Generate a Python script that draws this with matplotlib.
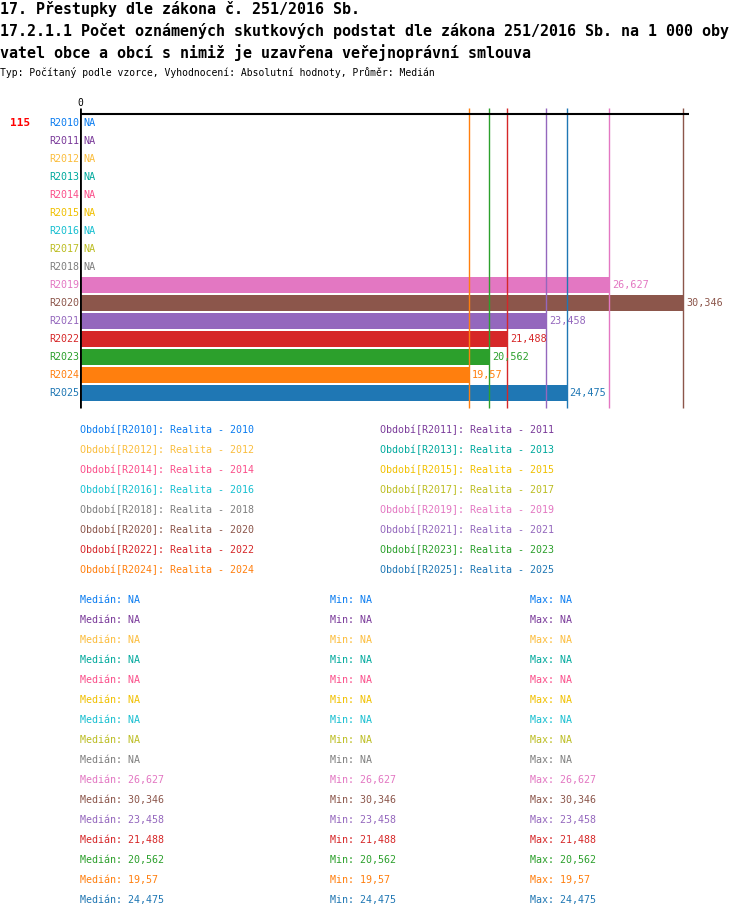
import numpy as np
import matplotlib
matplotlib.use("Agg")
import matplotlib.pyplot as plt

plt.rcParams['font.family'] = ['DejaVu Sans Mono']

W, H = 750, 918

title1 = "17. Přestupky dle zákona č. 251/2016 Sb."
title2 = "17.2.1.1 Počet oznámených skutkových podstat dle zákona 251/2016 Sb. na 1 000 oby"
title3 = "vatel obce a obcí s nimiž je uzavřena veřejnoprávní smlouva"
subtitle = "Typ: Počítaný podle vzorce, Vyhodnocení: Absolutní hodnoty, Průměr: Medián"
row_count_label = "115"

periods = ['R2010', 'R2011', 'R2012', 'R2013', 'R2014', 'R2015', 'R2016', 'R2017',
           'R2018', 'R2019', 'R2020', 'R2021', 'R2022', 'R2023', 'R2024', 'R2025']
years = [p[1:] for p in periods]
values = [np.nan] * 9 + [26.627, 30.346, 23.458, 21.488, 20.562, 19.57, 24.475]
colors = ['#0a7cf0', '#7a3a9a', '#fbbd3c', '#00a99d', '#fb4f8a', '#f0c000',
          '#17bfd0', '#bcbd22', '#7f7f7f', '#e377c2', '#8c564b', '#9467bd',
          '#d62728', '#2ca02c', '#ff7f0e', '#1f77b4']


def fmt(v):
    if np.isnan(v):
        return "NA"
    return f"{v:.3f}".rstrip('0').rstrip('.').replace('.', ',')


def ftext(x, y, s, **kw):
    # place text by pixel position from top-left
    kw.setdefault('va', 'center')
    fig.text(x / W, 1 - y / H, s, **kw)


fig = plt.figure(figsize=(W / 100, H / 100), dpi=100)

# titles
ftext(0, 9, title1, fontsize=10.8, fontweight='bold')
ftext(0, 31, title2, fontsize=10.8, fontweight='bold')
ftext(0, 53, title3, fontsize=10.8, fontweight='bold')
ftext(0, 73, subtitle, fontsize=7)

# bar chart axes: zero at x=80 px, rows centered at 123 + 18*i px
ax_l, ax_r, ax_t, ax_b = 80, 700, 100, 410
px_per_unit = 19.88
ax = fig.add_axes([ax_l / W, 1 - ax_b / H, (ax_r - ax_l) / W, (ax_b - ax_t) / H])
ax.set_xlim(0, (ax_r - ax_l) / px_per_unit)
ax.set_ylim((ax_b - 123) / 18, (ax_t - 123) / 18)
ax.axis('off')

n = len(periods)
y = np.arange(n)
vals = np.array(values)
ax.barh(y, np.nan_to_num(vals), height=0.88, color=colors, left=0.05)

y_lo, y_hi = -0.83, n - 0.17
for v, c in zip(vals, colors):
    if not np.isnan(v):
        ax.vlines(v, y_lo, y_hi, color=c, lw=1)
ax.vlines(0, y_lo, y_hi, color='black', lw=2)
ax.hlines(-0.5, 0, 30.63, color='black', lw=1.5)
ax.text(0, -1.1, "0", ha='center', va='center', fontsize=7)

for i, (p, v, c) in enumerate(zip(periods, vals, colors)):
    ax.text(-0.05, i, p, ha='right', va='center', fontsize=7.2, color=c)
    xv = 0 if np.isnan(v) else v
    ax.text(xv + 0.15, i, fmt(v), ha='left', va='center', fontsize=7.3, color=c)

ftext(10, 123, row_count_label, fontsize=8, fontweight='bold', color='red')

# legend, two columns
for k, (p, yr, c) in enumerate(zip(periods, years, colors)):
    col, row = k % 2, k // 2
    ftext(80 + 300 * col, 430 + 20 * row, f"Období[{p}]: Realita - {yr}",
          fontsize=7.2, color=c)

# statistics
for k, (v, c) in enumerate(zip(vals, colors)):
    yy = 600 + 20 * k
    s = fmt(v)
    ftext(80, yy, f"Medián: {s}", fontsize=7.2, color=c)
    ftext(330, yy, f"Min: {s}", fontsize=7.2, color=c)
    ftext(530, yy, f"Max: {s}", fontsize=7.2, color=c)

fig.savefig("out.png", dpi=100)
